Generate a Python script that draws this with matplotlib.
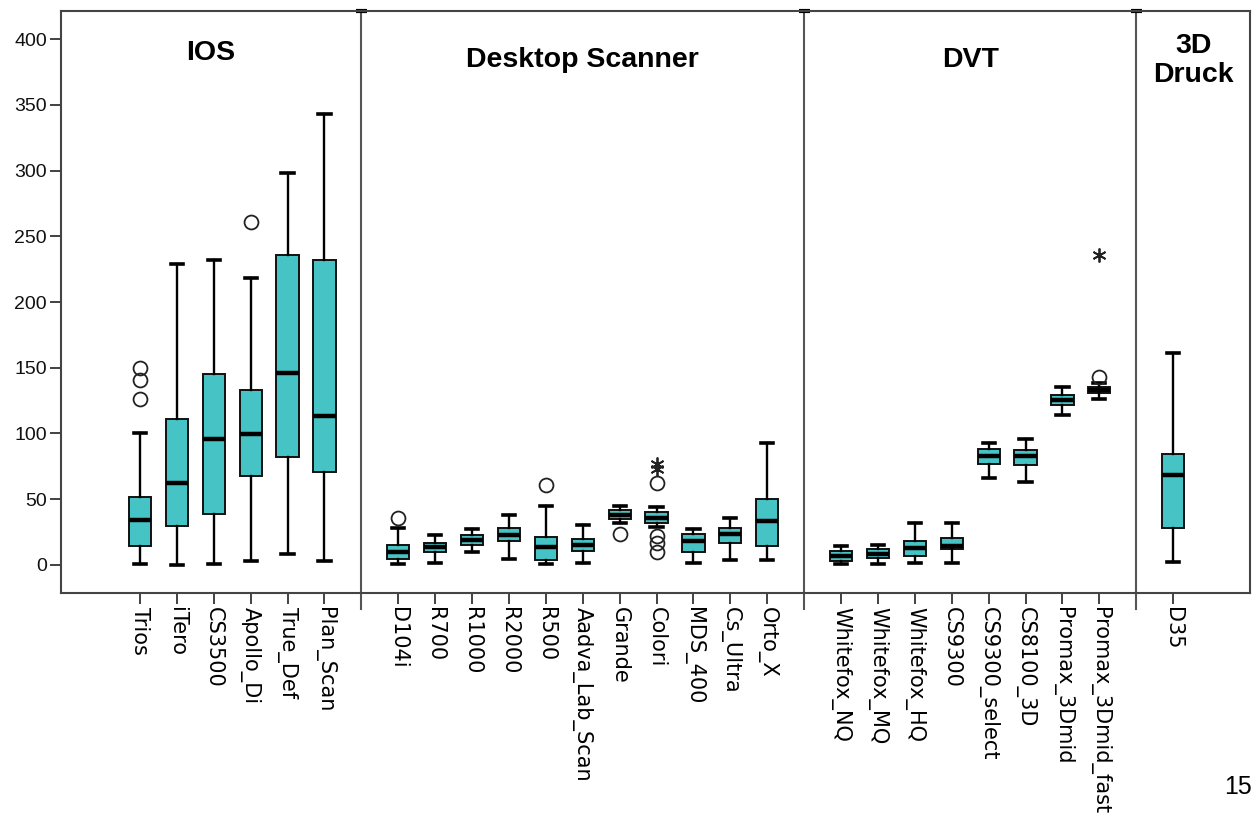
"""
Boxplot der Abweichungen nach Geraetegruppe (IOS, Desktop Scanner, DVT, 3D Druck)
im SPSS-Stil nachgebaut.
"""

import matplotlib
matplotlib.use("Agg")
import matplotlib.pyplot as plt
import matplotlib.transforms as mtransforms

# ---- data -------------------------------------------------------------
group_names = ["IOS", "Desktop Scanner", "DVT", "3D\nDruck"]
group_sizes = [6, 11, 8, 1]

labels = [
    "Trios", "iTero", "CS3500", "Apollo_Di", "True_Def", "Plan_Scan",
    "D104i", "R700", "R1000", "R2000", "R500", "Aadva_Lab_Scan", "Grande",
    "Colori", "MDS_400", "Cs_Ultra", "Orto_X",
    "Whitefox_NQ", "Whitefox_MQ", "Whitefox_HQ", "CS9300", "CS9300_select",
    "CS8100_3D", "Promax_3Dmid", "Promax_3Dmid_fast",
    "D35",
]
whislo = [1, 0, 1, 3, 8, 3,
          0.5, 1.3, 10, 4.3, 0.5, 1.3, 32, 29, 1.8, 4, 4,
          0.5, 0.5, 1.3, 1.8, 66.4, 63, 114, 126,
          2.5]
q1 = [14.5, 30, 39, 67.5, 82, 71,
      4.5, 10, 15, 18, 4, 10.6, 34.7, 32, 10, 17, 14.7,
      3.3, 5, 6.8, 12, 77, 76, 122, 130.5,
      28.4]
med = [34, 62, 95.5, 99.5, 146, 113,
       10, 14, 19, 23, 14, 15, 38, 36, 18.5, 23.5, 33.5,
       6.8, 8.4, 12.7, 14.4, 83, 83, 125.5, 133,
       68.4]
q3 = [52, 111, 145, 133, 236, 232,
      15, 17, 22.5, 28, 21.5, 19.5, 42, 40, 23.5, 28.4, 50,
      10.6, 12, 18, 20.8, 88, 87.5, 129, 135.6,
      84.4]
whishi = [100, 229, 232, 218, 298, 343,
          28, 23, 27, 38, 45, 30.4, 45, 44, 27, 36, 93,
          14.7, 15, 31.7, 31.7, 93, 95.8, 135, 138.6,
          161.5]
# circles (outliers)
fliers = [[126, 141, 150], [], [], [261], [], [],
          [35.5], [], [], [], [61], [], [23.5], [10, 17, 22, 62], [], [], [],
          [], [], [], [], [], [], [], [143],
          []]
# stars (extreme values)
extremes = [[], [], [], [], [], [],
            [], [], [], [], [], [], [], [73, 77], [], [], [],
            [], [], [], [], [], [], [], [236],
            []]

yticks = [0, 50, 100, 150, 200, 250, 300, 350, 400]

# ---- layout -----------------------------------------------------------
W, H = 1252, 813
fig = plt.figure(figsize=(W / 100, H / 100), dpi=100)
ax = fig.add_axes([61 / W, 1 - 593 / H, (1250 - 61) / W, (593 - 11) / H])

# positions: 1 unit between boxes, 2 units between groups
positions, seps = [], []
x = 2.14
for gi, n in enumerate(group_sizes):
    for k in range(n):
        positions.append(x)
        x += 1
    if gi < len(group_sizes) - 1:
        seps.append(x)
        x += 1

stats = []
for i, lab in enumerate(labels):
    stats.append(dict(label=lab, whislo=whislo[i], q1=q1[i], med=med[i],
                      q3=q3[i], whishi=whishi[i], fliers=fliers[i]))

fill = "#46C3C4"
ax.bxp(stats, positions=positions, widths=0.6, patch_artist=True,
       showfliers=True, capwidths=0.33,
       boxprops=dict(facecolor=fill, edgecolor="#111111", linewidth=1.4),
       medianprops=dict(color="black", linewidth=3.2),
       whiskerprops=dict(color="black", linewidth=1.7),
       capprops=dict(color="black", linewidth=2.6),
       flierprops=dict(marker="o", markerfacecolor="none",
                       markeredgecolor="#222222", markersize=10,
                       markeredgewidth=1.3))

for i, vals in enumerate(extremes):
    if vals:
        ax.plot([positions[i]] * len(vals), vals, linestyle="none",
                marker=(6, 2, 0), markersize=10, color="#222222",
                markeredgewidth=1.3)

ax.set_xlim(0, (1250 - 61) / 36.9)
ax.set_ylim(-21.3, 421.3)

# group separators (stick out below the axis) with small caps on top
trans = mtransforms.blended_transform_factory(ax.transData, ax.transAxes)
for s in seps:
    ax.plot([s, s], [-0.027, 1], transform=trans, color="#555555",
            linewidth=1.5, clip_on=False)
    ax.plot([s - 0.15, s + 0.15], [1, 1], transform=trans, color="black",
            linewidth=3, clip_on=False, solid_capstyle="butt")

# group titles
edges = [0] + seps + [ax.get_xlim()[1]]
for gi, name in enumerate(group_names):
    cx = (edges[gi] + edges[gi + 1]) / 2
    cy = 389 if gi == 0 else 384
    ax.text(cx, cy, name, ha="center", va="center", fontsize=20.5,
            fontweight="bold", family="Liberation Sans", linespacing=1.15)

ax.set_xticks(positions)
ax.set_xticklabels(labels, rotation=-90, fontsize=15,
                   family="DejaVu Sans", va="top", ha="center")
ax.tick_params(axis="x", length=8, width=1.3, color="#333333", pad=2)

ax.set_yticks(yticks)
ax.set_yticklabels([str(v) for v in yticks], fontsize=14,
                   family="Liberation Sans", color="#111111")
ax.tick_params(axis="y", length=8, width=1.3, color="#333333", pad=2)

for sp in ax.spines.values():
    sp.set_color("#444444")
    sp.set_linewidth(1.5)

# page number in the bottom right corner
fig.text(1224 / W, 1 - 794 / H, "15", fontsize=18, family="Liberation Sans",
         ha="left", va="baseline")

fig.savefig("out.png", dpi=100)
